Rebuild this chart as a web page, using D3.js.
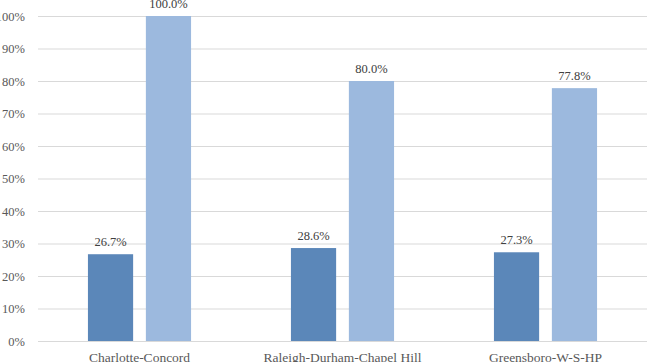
<!DOCTYPE html>
<html><head><meta charset="utf-8">
<script src="https://cdn.jsdelivr.net/npm/d3@7"></script>
<style>body{margin:0;background:#fff;} svg{display:block;}</style>
</head><body>
<svg id="chart" width="649" height="362"></svg>
<script>
const categories = ["Charlotte-Concord", "Raleigh-Durham-Chapel Hill", "Greensboro-W-S-HP"];
const seriesNames = ["Series A", "Series B"];
const seriesA = [26.7, 28.6, 27.3];
const seriesB = [100.0, 80.0, 77.8];
const yTicks = [0, 10, 20, 30, 40, 50, 60, 70, 80, 90, 100];
const colors = ["#5b87b9", "#9cb9de"];

const svg = d3.select("#chart");
const W = 649, H = 362;
const margin = {left: 38, right: 2, top: 16, bottom: 21};
const x0 = d3.scaleBand().domain(categories).range([margin.left, W - margin.right]).padding(0);
const bw = x0.bandwidth();
const x1 = d3.scaleBand().domain(seriesNames).range([bw * 0.246, bw * 0.754]).paddingInner(0.22).paddingOuter(0);
const y = d3.scaleLinear().domain([0, 100]).range([H - margin.bottom, margin.top]);

const font = "'Liberation Serif', 'DejaVu Serif', serif";

// grid
svg.append("g").selectAll("line").data(yTicks).join("line")
  .attr("x1", margin.left).attr("x2", W - margin.right)
  .attr("y1", d => y(d) + 0.5).attr("y2", d => y(d) + 0.5)
  .attr("stroke", "#d9d9d9").attr("stroke-width", 1);

// y axis labels
const yAxis = d3.axisLeft(y).tickValues(yTicks).tickFormat(d => d + "%").tickSize(0).tickPadding(13);
const ya = svg.append("g").attr("transform", `translate(${margin.left},0)`).call(yAxis);
ya.select(".domain").remove();
ya.selectAll("text").attr("font-family", font).attr("font-size", 12.5).attr("fill", "#595959");

const data = categories.map((c, i) => ({cat: c, vals: [
  {s: seriesNames[0], v: seriesA[i], c: colors[0]},
  {s: seriesNames[1], v: seriesB[i], c: colors[1]}
]}));

const g = svg.append("g").selectAll("g").data(data).join("g")
  .attr("transform", d => `translate(${x0(d.cat)},0)`);
g.selectAll("rect").data(d => d.vals).join("rect")
  .attr("x", d => x1(d.s)).attr("width", x1.bandwidth())
  .attr("y", d => y(d.v)).attr("height", d => y(0) - y(d.v))
  .attr("fill", d => d.c);
g.selectAll("text").data(d => d.vals).join("text")
  .attr("x", d => x1(d.s) + x1.bandwidth() / 2)
  .attr("y", d => y(d.v) - 8)
  .attr("text-anchor", "middle")
  .attr("font-family", font).attr("font-size", 12.5).attr("fill", "#404040")
  .text(d => d.v.toFixed(1) + "%");

// x axis labels
const xAxis = d3.axisBottom(x0).tickSize(0).tickPadding(11);
const xa = svg.append("g").attr("transform", `translate(0,${y(0)})`).call(xAxis);
xa.select(".domain").remove();
xa.selectAll("text").attr("font-family", font).attr("font-size", 13.5).attr("fill", "#595959");
</script>
</body></html>
